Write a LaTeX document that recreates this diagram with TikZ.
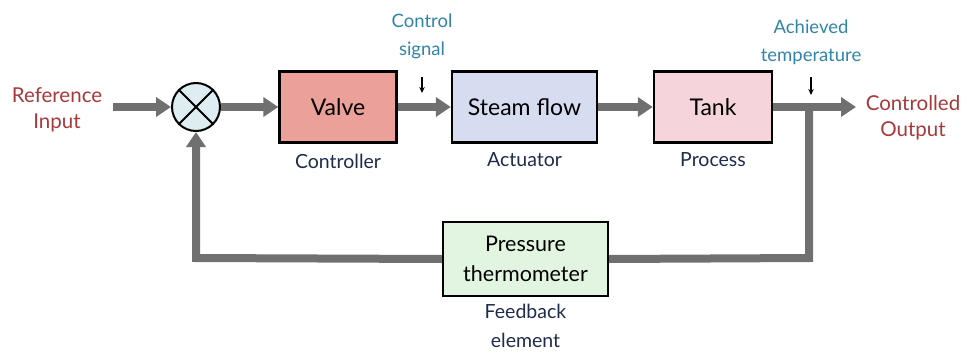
\documentclass[tikz,border=0pt]{standalone}
\usepackage{fontspec}
\setmainfont{Lato}
\usetikzlibrary{arrows.meta,calc}
\definecolor{refred}{HTML}{A8383A}
\definecolor{teal}{HTML}{2F84A8}
\definecolor{navy}{HTML}{1E2B4A}
\definecolor{valvefill}{HTML}{EBA199}
\definecolor{steamfill}{HTML}{D7DDF0}
\definecolor{tankfill}{HTML}{F6D4DB}
\definecolor{pressfill}{HTML}{E2F5E0}
\definecolor{sumfill}{HTML}{DDEDF2}
\definecolor{flowgray}{HTML}{707070}
\tikzset{
  blockbox/.style={draw=black, line width=2.4pt, minimum height=71pt, inner sep=0pt,
    font=\fontsize{23}{26}\selectfont, align=center},
  extlbl/.style={text=refred, font=\fontsize{20.5}{26}\selectfont, align=center, inner sep=0pt},
  siglbl/.style={text=teal, font=\fontsize{18.5}{28}\selectfont, align=center, inner sep=0pt},
  rolelbl/.style={text=navy, font=\fontsize{19.5}{29}\selectfont, align=center, inner sep=0pt},
  flow/.style={draw=flowgray, line width=8pt, line join=miter},
  flowarrow/.style={flow, -{Triangle[length=15pt,width=19pt]}},
  smallarrow/.style={draw=black, line width=1.4pt, -{Stealth[length=6pt,width=5.5pt]}}
}
\begin{document}
\begin{tikzpicture}[x=1pt,y=-1pt]
\useasboundingbox (0,0) rectangle (968,351);
% nodes
\node[extlbl] (ref) at (57,110) {Reference\\Input};
\node[circle, draw=black, line width=2pt, fill=sumfill, minimum size=48pt, inner sep=0pt] (sum) at (196,107) {};
\draw[line width=2pt] (sum.north west) -- (sum.south east);
\draw[line width=2pt] (sum.north east) -- (sum.south west);
\node[blockbox, fill=valvefill, minimum width=117pt] (valve) at (338,107) {Valve};
\node[blockbox, fill=steamfill, minimum width=145pt] (steam) at (524.5,107) {Steam flow};
\node[blockbox, fill=tankfill, minimum width=118pt] (tank) at (713,107) {Tank};
\node[extlbl] (out) at (913,118) {Controlled\\Output};
\node[blockbox, fill=pressfill, minimum width=165pt, minimum height=74pt,
  font=\fontsize{21.5}{30}\selectfont] (press) at (525.5,259) {Pressure\\thermometer};

\node[rolelbl] (ctrl) at (338,161) {Controller};
\node[rolelbl] (act) at (524.5,160) {Actuator};
\node[rolelbl] (proc) at (713,160) {Process};
\node[rolelbl] (fbl) at (525.5,326) {Feedback\\element};

\node[siglbl] (csig) at (422,36) {Control\\signal};
\node[siglbl] (atemp) at (811,42) {Achieved\\temperature};

\coordinate (refend) at (113,107);
\coordinate (branch) at (809,107);
\coordinate (outtip) at (856,107);
\coordinate (fbright) at (809,258);
\coordinate (fbleft) at (196,258);
\coordinate (csigtip) at (422,93);
\coordinate (atemptip) at (811,95);

% main path
\draw[flowarrow] (refend) -- (sum.west);
\draw[flowarrow] (sum.east) -- (valve.west);
\draw[flowarrow] (valve.east) -- (steam.west);
\draw[flowarrow] (steam.east) -- (tank.west);
\draw[flowarrow] (tank.east) -- (outtip);
% feedback
\draw[flow] (branch) -- (fbright) -- (press.east);
\draw[flowarrow] (press.west) -- (fbleft) -- (sum.south);

% small arrows
\draw[smallarrow] ($(csigtip)+(0,-16)$) -- (csigtip);
\draw[smallarrow] ($(atemptip)+(0,-18)$) -- (atemptip);
\end{tikzpicture}
\end{document}
